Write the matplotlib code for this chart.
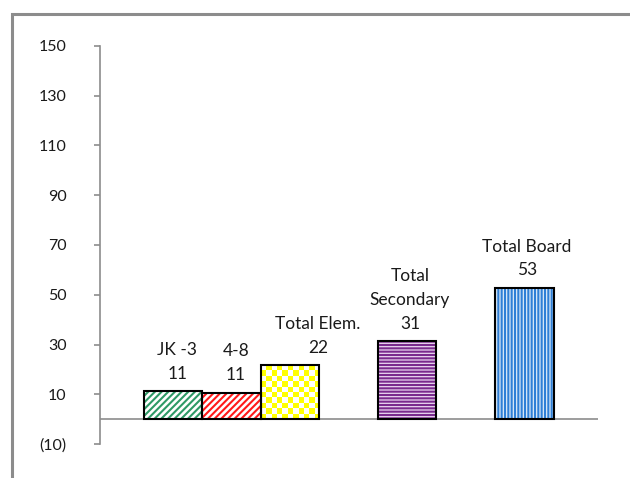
import numpy as np
import matplotlib
matplotlib.use('Agg')
import matplotlib.pyplot as plt
from matplotlib.colors import ListedColormap
from matplotlib.patches import Rectangle

categorias = ['JK -3', '4-8', 'Total Elem.', 'Total\nSecondary', 'Total Board']
posiciones = [1, 2, 3, 5, 7]
valores = [11.2, 10.6, 21.6, 31.3, 52.7]
yticks = [-10, 10, 30, 50, 70, 90, 110, 130, 150]

plt.rcParams['font.family'] = ['Lato', 'DejaVu Sans']
plt.rcParams['hatch.linewidth'] = 1.5


def etiqueta_tick(v):
    return '({})'.format(abs(v)) if v < 0 else str(v)


def main():
    fig = plt.figure(figsize=(6.3, 4.78), dpi=100)
    ax = fig.add_axes([100 / 630, 1 - 444 / 478, 498 / 630, 398 / 478])

    # marco gris del área del gráfico
    fig.patches.append(Rectangle((12 / 630, -0.1), 1.2, 1 - 14 / 478 + 0.1,
                                 transform=fig.transFigure, fill=False,
                                 edgecolor='#8c8c8c', linewidth=2.2))

    estilos = [
        dict(facecolor='white', edgecolor='#2e9a66', hatch='/////'),
        dict(facecolor='white', edgecolor='#ff1a1a', hatch='/////'),
        dict(facecolor='#ffff00', edgecolor='#ffff00', hatch=None),
        dict(facecolor='#e9d6f0', edgecolor='#7a2a8e', hatch='-----'),
        dict(facecolor='#dceaf8', edgecolor='#2f7fd6', hatch='|||||'),
    ]

    barras = []
    for x, v, est in zip(posiciones, valores, estilos):
        b = ax.bar(x, v, width=1.0, linewidth=0, **est)[0]
        barras.append(b)
    ax.bar(posiciones, valores, width=1.0, fill=False, edgecolor='black',
           linewidth=1.5, zorder=4)

    ax.set_xlim(-0.25, 8.26)
    ax.set_ylim(-10, 150)

    # cuadriculado amarillo/blanco para Total Elem.
    b = barras[2]
    x0, w, h = b.get_x(), b.get_width(), b.get_height()
    p0 = ax.transData.transform((x0, 0))
    p1 = ax.transData.transform((x0 + w, h))
    nx = int(round((p1[0] - p0[0]) / 5.5))
    ny = int(round((p1[1] - p0[1]) / 5.5))
    tablero = np.indices((ny, nx)).sum(axis=0) % 2
    img = ax.imshow(tablero, extent=(x0, x0 + w, 0, h), aspect='auto',
                    cmap=ListedColormap(['#ffff00', 'white']),
                    interpolation='nearest', origin='lower', zorder=2)
    img.set_clip_path(b)
    ax.set_xlim(-0.25, 8.26)
    ax.set_ylim(-10, 150)

    # etiquetas encima de cada barra
    desplaz = [3, 3, 20, 2, 2]
    for x, v, cat, dx in zip(posiciones, valores, categorias, desplaz):
        ax.annotate('{}\n{:.0f}'.format(cat, v), xy=(x, v), xytext=(dx, 7),
                    textcoords='offset points', ha='center', va='bottom',
                    multialignment='center', fontsize=12.5, linespacing=1.6,
                    color='#1a1a1a')

    ax.axhline(0, color='#8c8c8c', linewidth=1.2, zorder=1)

    ax.set_yticks(yticks)
    ax.set_yticklabels([etiqueta_tick(v) for v in yticks])
    ax.set_xticks([])
    for lado in ['top', 'right', 'bottom']:
        ax.spines[lado].set_visible(False)
    ax.spines['left'].set_color('#8c8c8c')
    ax.spines['left'].set_linewidth(1.2)
    ax.tick_params(axis='y', length=4, width=1.2, color='#8c8c8c',
                   labelsize=11.5, labelcolor='#1a1a1a', pad=20)
    ax.patch.set_visible(False)

    fig.savefig('out.png', dpi=100)


if __name__ == '__main__':
    main()
